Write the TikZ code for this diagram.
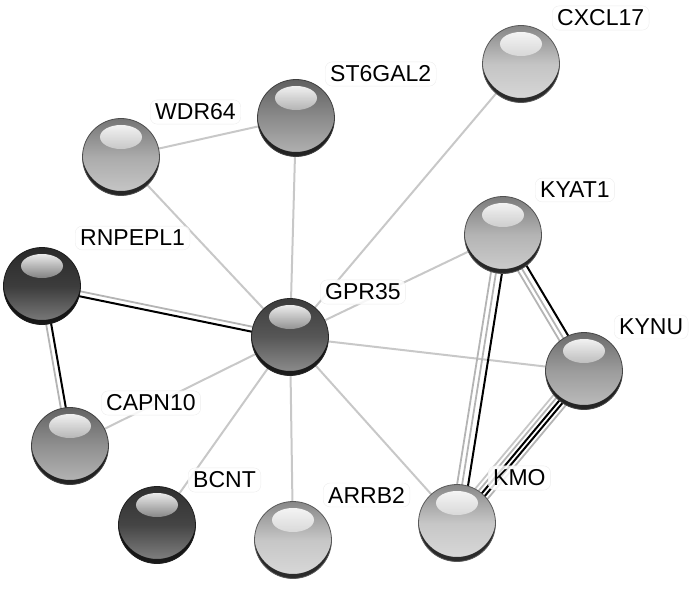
\documentclass[tikz,border=0pt]{standalone}
\usepackage{fontspec}
\setmainfont{Liberation Sans}
\usetikzlibrary{calc,backgrounds}
\definecolor{cCX}{HTML}{C4C4C4}
\definecolor{cST}{HTML}{8C8C8C}
\definecolor{cWD}{HTML}{ABABAB}
\definecolor{cRN}{HTML}{3C3C3C}
\definecolor{cGP}{HTML}{575757}
\definecolor{cKA}{HTML}{B4B4B4}
\definecolor{cKN}{HTML}{9C9C9C}
\definecolor{cCA}{HTML}{909090}
\definecolor{cBC}{HTML}{454545}
\definecolor{cAR}{HTML}{C6C6C6}
\definecolor{cKM}{HTML}{C6C6C6}
\definecolor{edgegray}{HTML}{C8C8C8}
\definecolor{multigray}{HTML}{B4B4B4}
\newcommand\eline[4]{\draw[#4] ($(#1.center)!#3!90:(#2.center)$) -- ($(#2.center)!#3!-90:(#1.center)$);}
\begin{document}
\begin{tikzpicture}[x=1pt,y=-1pt,
  ball/.style={circle, minimum size=77pt, inner sep=0pt, outer sep=0pt,
    draw=#1!45!black, line width=0.8pt,
    path picture={
      \coordinate (pc) at (path picture bounding box.center);
      \shade[top color=#1!68!black, bottom color=#1!65!white, middle color=#1] (pc) circle (39);
      \fill[black, opacity=0.8, even odd rule] (pc) circle (39) ($(pc)+(0,-5)$) circle (39);
      \shade[top color=white, bottom color=#1!60!white, opacity=0.9] ($(pc)+(0,-20)$) ellipse (21 and 12);
    }},
  lbl/.style={anchor=west, font=\fontsize{23}{26}\selectfont, fill=white, fill opacity=0.85, text opacity=1,
    draw=black!7, rounded corners=7pt, inner xsep=5pt, inner ysep=4pt},
  light/.style={draw=edgegray, line width=2pt},
  mgray/.style={draw=multigray, line width=1.8pt},
  mlgray/.style={draw=black!22, line width=1.8pt},
  mblack/.style={draw=black, line width=2pt},
]
\useasboundingbox (0,0) rectangle (700,593);
% spheres
\node[ball=cCX] (cx) at (521,64) {};
\node[ball=cST] (st6) at (296,118) {};
\node[ball=cWD] (wdr) at (121,157) {};
\node[ball=cRN] (rnp) at (42,286) {};
\node[ball=cGP] (gpr) at (290,337) {};
\node[ball=cKA] (kyat) at (503,235) {};
\node[ball=cKN] (kynu) at (584,371) {};
\node[ball=cCA] (capn) at (70,446) {};
\node[ball=cBC] (bcnt) at (157,525) {};
\node[ball=cAR] (arrb) at (293,540) {};
\node[ball=cKM] (kmo) at (457,523) {};
% edges
\begin{pgfonlayer}{background}
\draw[light] (wdr.center) -- (st6.center);
\draw[light] (wdr.center) -- (gpr.center);
\draw[light] (st6.center) -- (gpr.center);
\draw[light] (cx.center) -- (gpr.center);
\draw[light] (kyat.center) -- (gpr.center);
\draw[light] (kynu.center) -- (gpr.center);
\draw[light] (capn.center) -- (gpr.center);
\draw[light] (bcnt.center) -- (gpr.center);
\draw[light] (arrb.center) -- (gpr.center);
\draw[light] (kmo.center) -- (gpr.center);
\eline{rnp}{gpr}{2.5pt}{mgray}
\eline{rnp}{gpr}{-2.5pt}{mblack}
\eline{rnp}{capn}{-2.5pt}{mgray}
\eline{rnp}{capn}{2.5pt}{mblack}
\eline{kyat}{kmo}{-6pt}{mgray}
\eline{kyat}{kmo}{-1pt}{mgray}
\eline{kyat}{kmo}{5pt}{mblack}
\eline{kyat}{kynu}{-5.5pt}{mgray}
\eline{kyat}{kynu}{-1pt}{mgray}
\eline{kyat}{kynu}{4.5pt}{mblack}
\eline{kynu}{kmo}{-8pt}{mlgray}
\eline{kynu}{kmo}{-4pt}{mgray}
\eline{kynu}{kmo}{0pt}{mblack}
\eline{kynu}{kmo}{4pt}{mblack}
\eline{kynu}{kmo}{8pt}{mgray}
\end{pgfonlayer}
% labels
\node[lbl] (lcx) at (552,18) {CXCL17};
\node[lbl] (lst) at (325,74) {ST6GAL2};
\node[lbl] (lwd) at (150,112) {WDR64};
\node[lbl] (lrn) at (75,238) {RNPEPL1};
\node[lbl] (lgp) at (320,292) {GPR35};
\node[lbl] (lka) at (535,190) {KYAT1};
\node[lbl] (lkn) at (614,327) {KYNU};
\node[lbl] (lca) at (101,403) {CAPN10};
\node[lbl] (lbc) at (188,480) {BCNT};
\node[lbl] (lar) at (323,495) {ARRB2};
\node[lbl] (lkm) at (488,478) {KMO};
\end{tikzpicture}
\end{document}
